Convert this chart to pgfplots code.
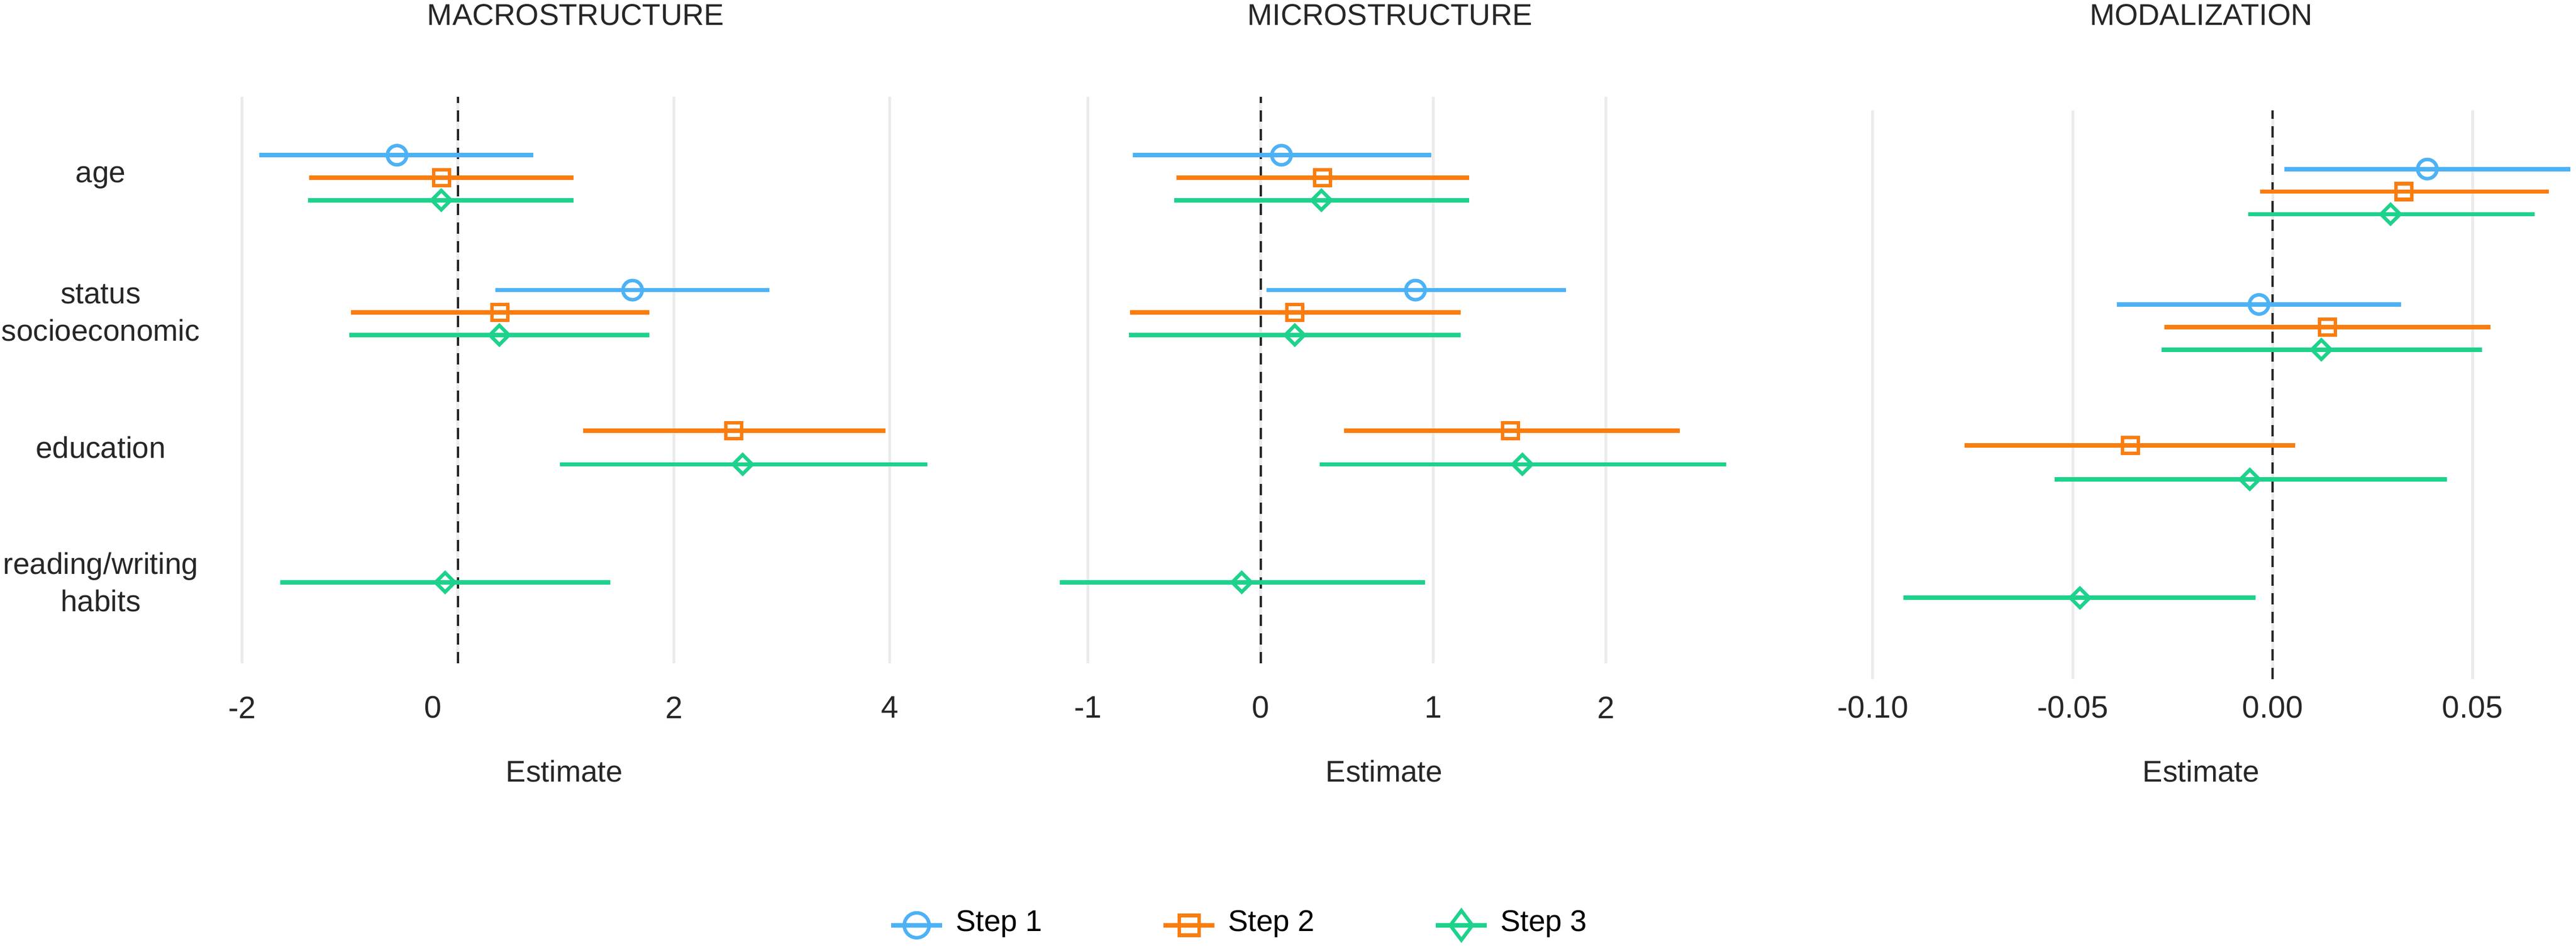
\documentclass[border=0pt]{standalone}
\usepackage{pgfplots}
\pgfplotsset{compat=1.18}
\usepackage{pgfplotstable}
\usepackage{fontspec}
\setmainfont{Liberation Sans}

\definecolor{sone}{HTML}{4DB2F5}
\definecolor{stwo}{HTML}{FA7D0F}
\definecolor{sthree}{HTML}{1ED28C}
\definecolor{gridgrey}{HTML}{EBEBEB}

% y: age=4, status=3, education=2, reading=1 (dodged)
\pgfplotstableread{
y est lo hi
4.1667 -0.565 -1.840 0.700
3.1667 1.617 0.347 2.886
}\macroA
\pgfplotstableread{
y est lo hi
4.0000 -0.150 -1.380 1.070
3.0000 0.389 -0.990 1.772
2.1250 2.554 1.161 3.960
}\macroB
\pgfplotstableread{
y est lo hi
3.8333 -0.155 -1.390 1.070
2.8333 0.383 -1.005 1.772
1.8750 2.637 0.943 4.347
1.0000 -0.119 -1.648 1.409
}\macroC

\pgfplotstableread{
y est lo hi
4.1667 0.120 -0.742 0.987
3.1667 0.896 0.033 1.766
}\microA
\pgfplotstableread{
y est lo hi
4.0000 0.358 -0.488 1.207
3.0000 0.197 -0.756 1.157
2.1250 1.445 0.482 2.425
}\microB
\pgfplotstableread{
y est lo hi
3.8333 0.351 -0.502 1.207
2.8333 0.197 -0.763 1.157
1.8750 1.515 0.341 2.696
1.0000 -0.110 -1.164 0.950
}\microC

\pgfplotstableread{
y est lo hi
4.1667 0.0387 0.0030 0.0745
3.1667 -0.0034 -0.0390 0.0322
}\modalA
\pgfplotstableread{
y est lo hi
4.0000 0.0328 -0.0031 0.0691
3.0000 0.0137 -0.0270 0.0545
2.1250 -0.0356 -0.0770 0.0057
}\modalB
\pgfplotstableread{
y est lo hi
3.8333 0.0295 -0.0061 0.0656
2.8333 0.0122 -0.0278 0.0524
1.8750 -0.0057 -0.0546 0.0436
1.0000 -0.0482 -0.0924 -0.0042
}\modalC

\pgfplotsset{
  panel/.style={
    scale only axis, anchor=south west,
    ymin=0.4, ymax=4.6,
    axis line style={draw=none}, major tick length=0pt,
    xmajorgrids, grid style={line width=0.5pt, draw=gridgrey},
    ytick={1,2,3,4}, yticklabels={},
    xticklabel style={font=\fontsize{5.5}{6.6}\selectfont, text=black!85, anchor=center},
    clip=false,
  },
  est/.style={only marks, forget plot,
    error bars/.cd, x dir=both, x explicit, error mark=none,
    error bar style={line width=0.78pt, #1}},
  s1/.style={sone, mark=o, mark size=1.7pt, mark options={fill=white, line width=0.62pt}, est=sone},
  s2/.style={stwo, mark=square, mark size=1.4pt, mark options={fill=white, line width=0.62pt}, est=stwo},
  s3/.style={sthree, mark=square, mark size=1.2pt, mark options={fill=white, line width=0.62pt, rotate=45}, est=sthree},
  zero/.style={forget plot, black!85, line width=0.35pt, dash pattern=on 2pt off 1.3pt},
  /pgfplots/table/ci/.style={x=est, y=y,
    x error plus expr=\thisrow{hi}-\thisrow{est},
    x error minus expr=\thisrow{est}-\thisrow{lo}},
}

\begin{document}
\begin{tikzpicture}
\path[use as bounding box] (0,0) rectangle (455pt,167.5pt);

% MACROSTRUCTURE
\begin{axis}[panel, at={(39.8pt,50.3pt)}, width=129.9pt, height=100.1pt,
  xmin=-2.155, xmax=4.657,
  xtick={-2,0,2,4}, xticklabels={-2,,2,4},
  xticklabel style={yshift=-7.8pt},
  extra x ticks={-0.23}, extra x tick labels={0}, extra x tick style={grid=none},
  yticklabels={{reading/writing\\habits},education,{status\\socioeconomic},age},
  yticklabel style={font=\fontsize{5.3}{6.6}\selectfont, align=center, anchor=center, xshift=-22pt, text=black!85}]
\addplot[zero] coordinates {(0,0.4) (0,4.6)};
\addplot[s1] table[ci] {\macroA};
\addplot[s2] table[ci] {\macroB};
\addplot[s3] table[ci] {\macroC};
\end{axis}

% MICROSTRUCTURE
\begin{axis}[panel, at={(181.3pt,50.3pt)}, width=129.5pt, height=100.1pt,
  xmin=-1.357, xmax=2.889,
  xtick={-1,0,1,2}, xticklabels={-1,0,1,2},
  xticklabel style={yshift=-7.8pt},
  legend columns=3,
  legend style={at={(-0.189,-0.4625)}, anchor=west, draw=none, fill=none, inner sep=0pt,
    font=\fontsize{5.3}{6.4}\selectfont,
    /tikz/every even column/.append style={column sep=19pt}},
  legend image code/.code={\draw[mark repeat=2, mark phase=2, #1] plot coordinates {(0pt,0pt) (4.5pt,0pt) (9pt,0pt)};}]
\addplot[zero] coordinates {(0,0.4) (0,4.6)};
\addplot[s1] table[ci] {\microA};
\addplot[s2] table[ci] {\microB};
\addplot[s3] table[ci] {\microC};
\addlegendimage{sone, line width=0.78pt, mark=o, mark size=2.2pt, mark options={fill=white, line width=0.62pt}}
\addlegendentry{Step 1}
\addlegendimage{stwo, line width=0.78pt, mark=square, mark size=1.75pt, mark options={fill=white, line width=0.62pt}}
\addlegendentry{Step 2}
\addlegendimage{sthree, line width=0.78pt, mark=diamond, mark size=2.6pt, mark options={fill=white, line width=0.62pt}}
\addlegendentry{Step 3}
\end{axis}

% MODALIZATION
\begin{axis}[panel, at={(330.3pt,47.5pt)}, width=124.7pt, height=100.5pt,
  xmin=-0.1007, xmax=0.0759,
  xtick={-0.10,-0.05,0,0.05}, xticklabels={-0.10,-0.05,0.00,0.05},
  xticklabel style={yshift=-5pt}]
\addplot[zero] coordinates {(0,0.4) (0,4.6)};
\addplot[s1] table[ci] {\modalA};
\addplot[s2] table[ci] {\modalB};
\addplot[s3] table[ci] {\modalC};
\end{axis}

\begin{scope}[every node/.style={font=\fontsize{5.3}{6.4}\selectfont, text=black!85}]
\node at (101.7pt,164.9pt) {MACROSTRUCTURE};
\node at (245.5pt,164.9pt) {MICROSTRUCTURE};
\node at (388.8pt,164.9pt) {MODALIZATION};
\node at (99.7pt,31.2pt) {Estimate};
\node at (244.5pt,31.2pt) {Estimate};
\node at (388.8pt,31.2pt) {Estimate};
\end{scope}
\end{tikzpicture}
\end{document}
